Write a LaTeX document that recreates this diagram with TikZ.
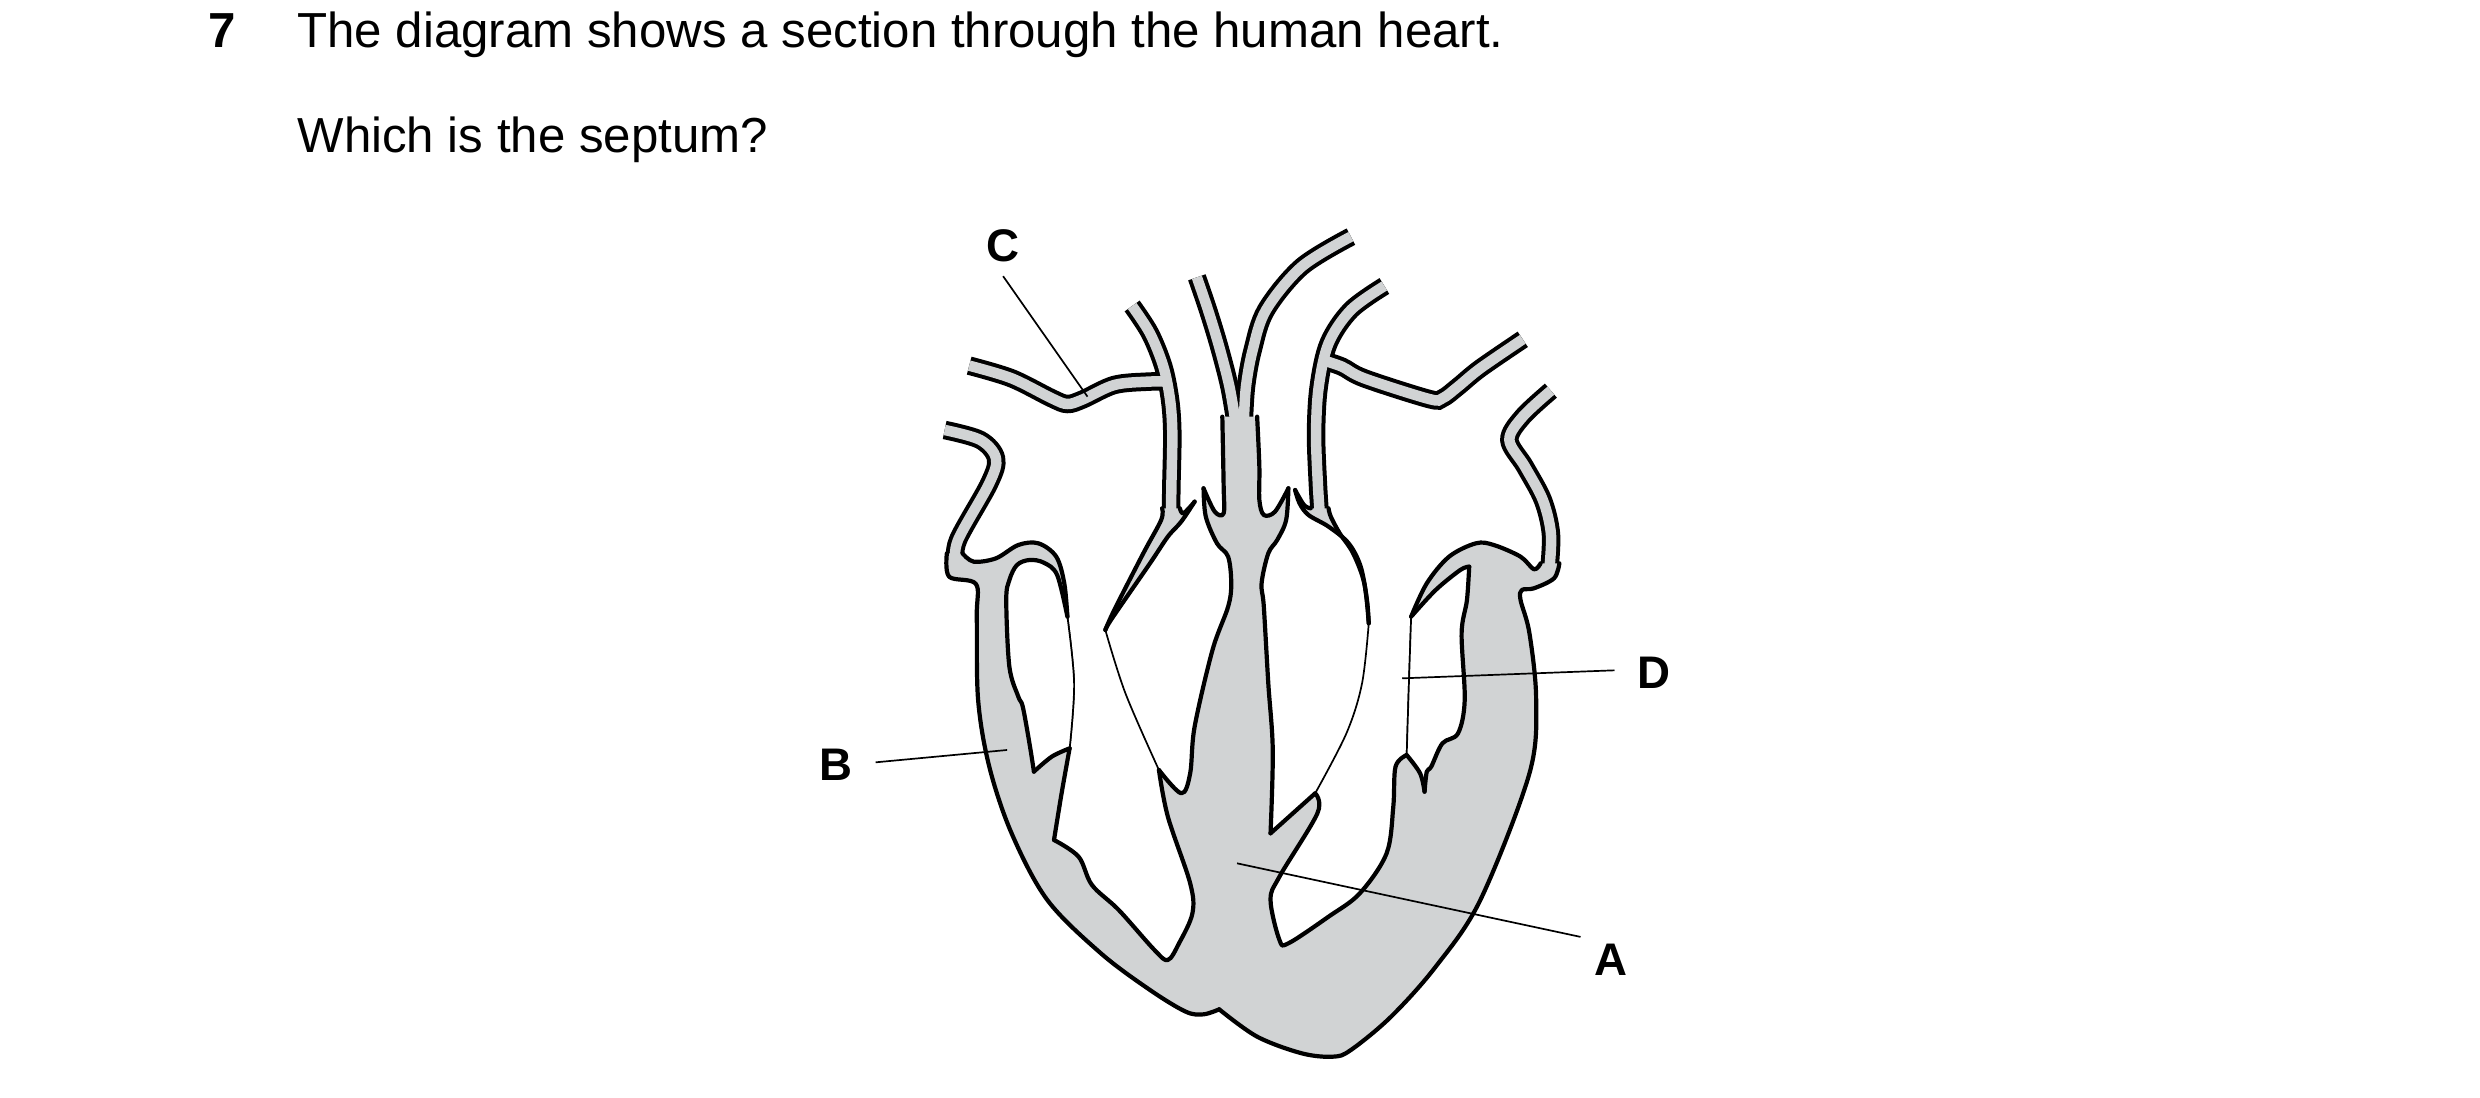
\documentclass[tikz,border=0pt]{standalone}
\usepackage{fontspec}
\setmainfont{Liberation Sans}
\definecolor{heart}{HTML}{D1D3D4}
\def\U#1{\unexpanded\expandafter{#1}}
\begin{document}
\begin{tikzpicture}[x=0.044643mm,y=-0.033333mm,
  wall/.style={line width=0.42mm,line join=round,line cap=round},
  thinl/.style={line width=0.17mm},
  tubeB/.style={line width=1.85mm},
  tubeG/.style={line width=1.05mm,draw=heart},
  lab/.style={font=\fontsize{13}{15}\selectfont\bfseries,inner sep=0},
  txt/.style={font=\fontsize{14}{17}\selectfont,inner sep=0,anchor=base west},
  sm/.style={smooth,tension=0.55}]
\useasboundingbox (-2016,-600) rectangle (3539.2,2694);
% text
\node[txt,font=\fontsize{14}{17}\selectfont\bfseries] (num) at (-1550,-456) {7};
\node[txt] (q1) at (-1351,-456) {The diagram shows a section through the human heart.};
\node[txt] (q2) at (-1351,-141) {Which is the septum?};
% tube paths
\def\Tone{plot[sm] coordinates {(100,690)(180,720)(215,775)(200,850)(130,1020)(125,1090)}}
\def\Tc{plot[sm] coordinates {(155,497)(250,535)(340,595)(375,612)(410,598)(480,555)(555,545)(600,545)}}
\def\Vone{plot[sm] coordinates {(520,318)(560,400)(590,500)(605,600)(610,700)(608,850)(607,935)}}
\def\Aone{plot[sm] coordinates {(665,232)(690,330)(715,440)(738,560)(752,670)}}
\def\Atwo{plot[sm] coordinates {(1010,110)(900,200)(820,330)(790,450)(775,560)(770,670)}}
\def\Vthree{plot[sm] coordinates {(1085,258)(1010,330)(960,430)(938,560)(932,700)(936,850)(940,935)}}
\def\Tthree{plot[sm] coordinates {(1395,418)(1300,505)(1250,560)(1215,595)(1185,597)(1040,535)(990,500)(945,480)}}
\def\Tfour{plot[sm] coordinates {(1458,572)(1395,650)(1365,720)(1400,800)(1440,900)(1458,1000)(1455,1100)}}
\foreach \p in {\Tone,\Tc,\Vone,\Aone,\Atwo,\Vthree,\Tthree,\Tfour}{\draw[tubeB] \p;}
\foreach \p in {\Tone,\Tc,\Vone,\Aone,\Atwo,\Vthree,\Tthree,\Tfour}{\draw[tubeG] \p;}
% body segments
\def\KoneA{plot[sm] coordinates {(105,1060)(110,1130)(170,1152)(172,1250)(175,1500)(200,1700)(250,1900)(330,2100)(450,2260)(560,2370)(640,2435)(680,2443)(715,2428)}}
\def\KoneB{plot[sm] coordinates {(715,2428)(800,2510)(900,2560)(970,2570)(1010,2550)(1100,2450)(1200,2300)(1300,2100)(1410,1720)(1425,1500)(1410,1300)(1390,1200)(1393,1170)(1420,1165)(1465,1135)(1477,1090)}}
\def\Ktwo{plot[sm] coordinates {(1435,1090)(1420,1108)(1390,1070)(1330,1035)(1290,1030)(1230,1070)(1180,1150)(1145,1250)}}
\def\Kthree{plot[sm] coordinates {(1145,1250)(1140,1450)(1135,1665)}}
\def\KfourA{plot[sm] coordinates {(1135,1665)(1110,1700)(1105,1820)(1090,1960)(1030,2080)(960,2150)(870,2230)(850,2220)(830,2100)(850,2030)(935,1840)(930,1780)}}
\def\KfourB{plot[sm] coordinates {(930,1780)(880,1840)(830,1900)}}
\def\KfourC{plot[sm] coordinates {(830,1900)(835,1650)(825,1450)(815,1220)(810,1150)(825,1060)(845,1020)(865,960)(870,865)}}
\def\KfourD{plot[sm] coordinates {(870,865)(840,935)(815,945)(805,900)(805,800)(800,650)}}
\def\KfiveA{plot[sm] coordinates {(722,650)(725,860)(725,940)(705,935)(680,865)}}
\def\KfiveB{plot[sm] coordinates {(680,865)(685,950)(710,1030)(735,1070)(742,1150)(735,1220)(700,1350)(660,1580)(650,1720)(630,1780)(580,1710)}}
\def\KfiveC{plot[sm] coordinates {(580,1710)(600,1850)(650,2050)(655,2140)(625,2230)(600,2280)(570,2250)(490,2130)(430,2055)(400,1970)(345,1920)}}
\def\KfiveD{plot[sm] coordinates {(345,1920)(362,1780)(380,1645)}}
\def\Ksix{plot[sm] coordinates {(380,1645)(390,1450)(375,1250)}}
\def\Kseven{plot[sm] coordinates {(375,1250)(368,1150)(350,1070)(310,1030)(265,1035)(215,1075)(165,1085)(140,1060)}}
\edef\tmp{\noexpand\fill[heart] \U\KoneA -- \U\KoneB -- \U\Ktwo -- \U\Kthree -- \U\KfourA -- \U\KfourB -- \U\KfourC -- \U\KfourD -- \U\KfiveA -- \U\KfiveB -- \U\KfiveC -- \U\KfiveD -- \U\Ksix -- \U\Kseven -- cycle;}\tmp
\foreach \p in {\KoneA,\KoneB,\Ktwo,\KfourA,\KfourB,\KfourC,\KfourD,\KfiveA,\KfiveB,\KfiveC,\KfiveD,\Kseven}{\draw[wall] \p;}
\draw[thinl] \Kthree; \draw[thinl] \Ksix;
% right atrium chamber
\def\RAa{plot[sm] coordinates {(375,1250)(352,1125)(322,1088)(290,1080)(262,1095)(245,1140)(238,1200)(245,1400)(265,1490)(275,1520)(290,1630)(300,1715)}}
\def\RAb{plot[sm] coordinates {(300,1715)(340,1670)(380,1645)}}
\edef\tmp{\noexpand\fill[white] \U\RAa -- \U\RAb -- \U\Ksix -- cycle;}\tmp
\draw[wall] \RAa; \draw[wall] \RAb; \draw[thinl] \Ksix;
% left atrium chamber
\def\LAa{plot[sm] coordinates {(1135,1665)(1165,1720)(1175,1775)}}
\def\LAb{plot[sm] coordinates {(1175,1775)(1180,1715)(1190,1700)(1215,1630)(1250,1600)(1265,1500)(1258,1300)(1270,1200)(1275,1100)}}
\def\LAc{plot[sm] coordinates {(1275,1100)(1255,1110)(1200,1170)(1145,1250)}}
\edef\tmp{\noexpand\fill[white] \U\LAa -- \U\LAb -- \U\LAc -- \U\Kthree -- cycle;}\tmp
\draw[wall] \LAa; \draw[wall] \LAb; \draw[wall] \LAc; \draw[thinl] \Kthree;
% valve flaps
\def\FoneA{plot[sm] coordinates {(587,925)(585,960)(545,1060)(480,1230)(460,1290)}}
\def\FoneB{plot[sm] coordinates {(460,1290)(475,1255)(560,1090)(600,1010)(630,965)(660,905)}}
\def\FoneC{plot[sm] coordinates {(660,905)(635,940)(627,925)}}
\edef\tmp{\noexpand\fill[heart] \U\FoneA -- \U\FoneB -- \U\FoneC -- cycle;}\tmp
\draw[wall] \FoneA; \draw[wall] \FoneB; \draw[wall] \FoneC;
\def\FthreeA{plot[sm] coordinates {(920,925)(905,915)(885,870)}}
\def\FthreeB{plot[sm] coordinates {(885,870)(895,910)(915,945)(960,980)(1005,1030)(1032,1100)(1046,1200)(1050,1270)}}
\def\FthreeC{plot[sm] coordinates {(1050,1270)(1040,1150)(1015,1060)(985,1000)(965,950)(960,925)}}
\edef\tmp{\noexpand\fill[heart] \U\FthreeA -- \U\FthreeB -- \U\FthreeC -- cycle;}\tmp
\draw[wall] \FthreeA; \draw[wall] \FthreeB; \draw[wall] \FthreeC;
% chordae / valve lines
\draw[thinl] plot[sm] coordinates {(460,1290)(505,1480)(580,1710)};
\draw[thinl] plot[sm] coordinates {(1050,1270)(1035,1450)(1000,1600)(930,1780)};
% labels
\node[lab] (C) at (231,138) {C};
\node[lab] (B) at (-143,1695) {B};
\node[lab] (D) at (1689,1419) {D};
\node[lab] (A) at (1593,2280) {A};
\coordinate (cE) at (420,590);
\coordinate (bE) at (240,1650);
\coordinate (dE) at (1125,1435);
\coordinate (aE) at (755,1990);
\draw[thinl] (C.south) ++(0,40) -- (cE);
\draw[thinl] (B.east) ++(50,-8) -- (bE);
\draw[thinl] (D.west) ++(-50,-8) -- (dE);
\draw[thinl] (A.north west) ++(-30,-20) -- (aE);
\end{tikzpicture}
\end{document}
